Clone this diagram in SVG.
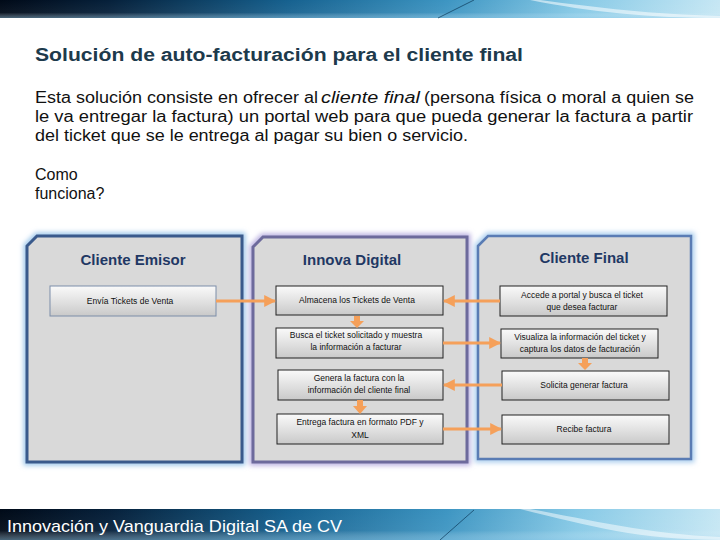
<svg xmlns="http://www.w3.org/2000/svg" width="720" height="540" viewBox="0 0 720 540">
<defs>
<linearGradient id="ban" x1="0" y1="0" x2="1" y2="0">
<stop offset="0" stop-color="#000a18"/>
<stop offset="0.15" stop-color="#06203a"/>
<stop offset="0.4" stop-color="#16618f"/>
<stop offset="0.62" stop-color="#3d95c2"/>
<stop offset="0.8" stop-color="#86c9e6"/>
<stop offset="1" stop-color="#c6e7f4"/>
</linearGradient>
<linearGradient id="banv" x1="0" y1="0" x2="0" y2="1">
<stop offset="0" stop-color="#ffffff" stop-opacity="0"/>
<stop offset="0.7" stop-color="#ffffff" stop-opacity="0.05"/>
<stop offset="1" stop-color="#9fd3ee" stop-opacity="0.45"/>
</linearGradient>
<linearGradient id="box" x1="0" y1="0" x2="0" y2="1">
<stop offset="0" stop-color="#fafafa"/>
<stop offset="0.5" stop-color="#e2e2e2"/>
<stop offset="1" stop-color="#c9c9c9"/>
</linearGradient>
<filter id="glow" x="-10%" y="-10%" width="120%" height="120%">
<feGaussianBlur stdDeviation="2.5"/>
</filter>
<marker id="ah" viewBox="0 0 10 10" refX="9" refY="5" markerWidth="4" markerHeight="4" orient="auto">
<path d="M0,0 L10,5 L0,10 Z" fill="#f5a05a"/>
</marker>
</defs>
<style>
.t{font-family:"Liberation Sans",Arial,sans-serif;fill:#111}
.h{font-family:"Liberation Sans",Arial,sans-serif;font-weight:bold;font-size:15px;fill:#1f3864;text-anchor:middle}
.bx{stroke-width:1}
.bt{font-family:"Liberation Sans",Arial,sans-serif;font-size:8.5px;fill:#111;text-anchor:middle}
.ar{stroke:#f5a05a;stroke-width:3;fill:none;marker-end:url(#ah)}
.da{fill:#f5a05a}
</style>
<rect width="720" height="540" fill="#ffffff"/>
<!-- top banner -->
<rect x="0" y="0" width="720" height="18" fill="url(#ban)"/>
<rect x="0" y="0" width="720" height="18" fill="url(#banv)"/>
<path d="M540,0 C600,8 650,14 720,16 L720,18 C650,18 590,12 530,0 Z" fill="#ffffff" opacity="0.55"/>
<path d="M438,18 L474,0" stroke="#0b3a5a" stroke-width="0.7" fill="none"/>
<!-- bottom banner -->
<rect x="0" y="509" width="720" height="31" fill="url(#ban)"/>
<rect x="0" y="509" width="720" height="31" fill="url(#banv)"/>
<path d="M530,509 C590,520 650,534 720,537 L720,540 C640,540 590,526 520,509 Z" fill="#ffffff" opacity="0.5"/>
<path d="M440,540 L474,510" stroke="#0b3a5a" stroke-width="0.7" fill="none"/>
<text x="7" y="532" font-family="Liberation Sans,Arial,sans-serif" font-size="17" fill="#ffffff" textLength="335" lengthAdjust="spacingAndGlyphs">Innovación y Vanguardia Digital SA de CV</text>
<!-- heading texts -->
<text x="35" y="61" font-family="Liberation Sans,Arial,sans-serif" font-weight="bold" font-size="18" fill="#1d3a4c" textLength="488" lengthAdjust="spacingAndGlyphs">Solución de auto-facturación para el cliente final</text>
<text class="t" x="35" y="103" font-size="16" textLength="283" lengthAdjust="spacingAndGlyphs">Esta solución consiste en ofrecer al</text>
<text class="t" x="321" y="103" font-size="16" font-style="italic" textLength="99" lengthAdjust="spacingAndGlyphs">cliente final</text>
<text class="t" x="424" y="103" font-size="16" textLength="270" lengthAdjust="spacingAndGlyphs">(persona física o moral a quien se</text>
<text class="t" x="35" y="122" font-size="16" textLength="658" lengthAdjust="spacingAndGlyphs">le va entregar la factura) un portal web para que pueda generar la factura a partir</text>
<text class="t" x="35" y="141" font-size="16" textLength="433" lengthAdjust="spacingAndGlyphs">del ticket que se le entrega al pagar su bien o servicio.</text>
<text class="t" x="35" y="180" font-size="16">Como</text>
<text class="t" x="35" y="199" font-size="16">funciona?</text>
<!-- panels -->
<g id="panel-emisor">
<path d="M27,246 L37,236 L242,236 L242,462 L27,462 Z" fill="none" stroke="#9cc6ea" stroke-width="7" filter="url(#glow)"/>
<path d="M27,246 L37,236 L242,236 L242,462 L27,462 Z" fill="#d9d9d9" stroke="#3a5a8c" stroke-width="3"/>
<text class="h" x="133" y="265">Cliente Emisor</text>
</g>
<g id="panel-innova">
<path d="M253,247 L263,237 L467,237 L467,462 L253,462 Z" fill="none" stroke="#b7aee0" stroke-width="7" filter="url(#glow)"/>
<path d="M253,247 L263,237 L467,237 L467,462 L253,462 Z" fill="#d9d9d9" stroke="#6d6a9c" stroke-width="3"/>
<text class="h" x="352" y="265">Innova Digital</text>
</g>
<g id="panel-final">
<path d="M478,246 L488,236 L691,236 L691,459 L478,459 Z" fill="none" stroke="#a9cdee" stroke-width="7" filter="url(#glow)"/>
<path d="M478,246 L488,236 L691,236 L691,459 L478,459 Z" fill="#d9d9d9" stroke="#5a7cb4" stroke-width="2.5"/>
<text class="h" x="584" y="263">Cliente Final</text>
</g>
<!-- boxes -->
<g id="envia">
<rect class="bx" x="50" y="286" width="166" height="30" fill="url(#box)" stroke="#7d8ea9"/>
<text class="bt" x="130" y="304">Envía Tickets de Venta</text>
</g>
<g id="almacena">
<rect class="bx" x="276" y="286" width="167" height="29" fill="url(#box)" stroke="#222"/>
<text class="bt" x="357" y="303">Almacena los Tickets de Venta</text>
</g>
<g id="busca">
<rect class="bx" x="276" y="328" width="167" height="30" fill="url(#box)" stroke="#222"/>
<text class="bt" x="356" y="338">Busca el ticket solicitado y muestra</text>
<text class="bt" x="356" y="350">la información a facturar</text>
</g>
<g id="genera">
<rect class="bx" x="278" y="370" width="165" height="30" fill="url(#box)" stroke="#222"/>
<text class="bt" x="359" y="381">Genera la factura con la</text>
<text class="bt" x="359" y="393">información del cliente final</text>
</g>
<g id="entrega">
<rect class="bx" x="277" y="414" width="166" height="30" fill="url(#box)" stroke="#222"/>
<text class="bt" x="360" y="425">Entrega factura en formato PDF y</text>
<text class="bt" x="360" y="438">XML</text>
</g>
<g id="accede">
<rect class="bx" x="500" y="286" width="167" height="30" fill="url(#box)" stroke="#222"/>
<text class="bt" x="582" y="298">Accede a portal y busca el ticket</text>
<text class="bt" x="582" y="310">que desea facturar</text>
</g>
<g id="visualiza">
<rect class="bx" x="501" y="329" width="157" height="29" fill="url(#box)" stroke="#222"/>
<text class="bt" x="580" y="340">Visualiza la información del ticket y</text>
<text class="bt" x="580" y="352">captura los datos de facturación</text>
</g>
<g id="solicita">
<rect class="bx" x="502" y="371" width="167" height="29" fill="url(#box)" stroke="#222"/>
<text class="bt" x="584" y="388">Solicita generar factura</text>
</g>
<g id="recibe">
<rect class="bx" x="502" y="415" width="167" height="29" fill="url(#box)" stroke="#222"/>
<text class="bt" x="584" y="432">Recibe factura</text>
</g>
<!-- connectors -->
<g id="connectors">
<line class="ar" x1="216" y1="301" x2="275" y2="301"/>
<line class="ar" x1="500" y1="301" x2="444" y2="301"/>
<line class="ar" x1="443" y1="343" x2="500" y2="343"/>
<line class="ar" x1="502" y1="385" x2="444" y2="385"/>
<line class="ar" x1="443" y1="429" x2="501" y2="429"/>
<path class="da" d="M354,316 L360,316 L360,321 L364,321 L357,328 L350,321 L354,321 Z"/>
<path class="da" d="M582,358 L588,358 L588,363 L592,363 L585,370 L578,363 L582,363 Z"/>
<path class="da" d="M357,400 L363,400 L363,406 L367,406 L360,414 L353,406 L357,406 Z"/>
</g>
</svg>
